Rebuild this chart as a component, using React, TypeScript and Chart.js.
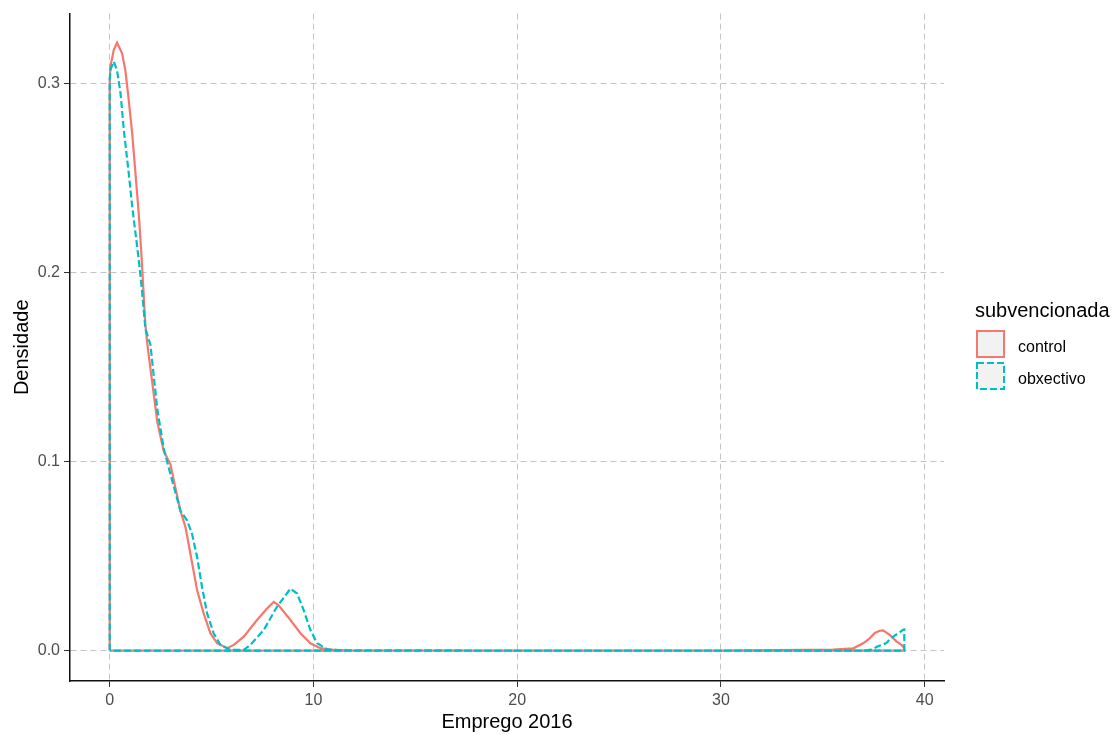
import { useEffect, useRef } from "react";
import { Chart, registerables } from "chart.js";

Chart.register(...registerables);

const FONT = "'Liberation Sans', Arial, Helvetica, sans-serif";

// Kernel density estimate of "Emprego 2016" — group "control"
const controlX = [0, 0.03, 0.2, 0.36, 0.61, 0.77, 0.93, 1.1, 1.26, 1.42, 1.54, 1.64, 1.75, 1.87, 2.08, 2.33, 2.65, 2.98, 3.22, 3.47, 3.72, 3.96, 4.29, 4.61, 4.94, 5.27, 5.76, 6.09, 6.58, 7.23, 7.72, 8.05, 8.29, 8.87, 9.36, 9.85, 10.34, 10.83, 11.5, 20, 30, 35.5, 36.5, 37.0, 37.3, 37.55, 37.8, 37.96, 38.2, 38.37, 38.6, 38.86, 39];
const controlY = [0.300, 0.309, 0.318, 0.3218, 0.316, 0.307, 0.2916, 0.274, 0.253, 0.232, 0.2126, 0.1934, 0.1723, 0.16, 0.1425, 0.1214, 0.1056, 0.0986, 0.0863, 0.074, 0.0653, 0.0513, 0.0319, 0.0197, 0.0092, 0.0039, 0.0013, 0.003, 0.0074, 0.0162, 0.0223, 0.0258, 0.024, 0.0162, 0.0092, 0.0039, 0.0013, 0.0005, 0.0001, 0, 0, 0.0005, 0.0012, 0.004, 0.0065, 0.0093, 0.0105, 0.0107, 0.009, 0.0075, 0.005, 0.003, 0.0013];

// group "obxectivo"
const obxectivoX = [0, 0.05, 0.2, 0.36, 0.53, 0.69, 0.93, 1.1, 1.26, 1.42, 1.59, 1.75, 2.0, 2.33, 2.65, 2.98, 3.47, 3.8, 4.04, 4.29, 4.53, 4.78, 5.1, 5.43, 5.92, 6.58, 6.9, 7.56, 8.21, 8.87, 9.2, 9.52, 9.85, 10.18, 10.67, 11.2, 20, 30, 37.0, 37.4, 37.71, 37.9, 38.12, 38.3, 38.53, 38.75, 38.94, 39];
const obxectivoY = [0.303, 0.308, 0.3118, 0.307, 0.295, 0.2758, 0.253, 0.2355, 0.2214, 0.2074, 0.19, 0.1705, 0.1618, 0.128, 0.107, 0.0934, 0.074, 0.0688, 0.0618, 0.0495, 0.0337, 0.0197, 0.0092, 0.003, 0.0004, 0.0004, 0.003, 0.0109, 0.0232, 0.0328, 0.0302, 0.0214, 0.0109, 0.0039, 0.0007, 0.0002, 0, 0, 0, 0.0005, 0.0023, 0.003, 0.004, 0.006, 0.0079, 0.0095, 0.011, 0.0112];

const xTicks = [0, 10, 20, 30, 40];
const yTicks = [0, 0.1, 0.2, 0.3];

const groupNames = ["control", "obxectivo"];
const groupColors = ["#F8766D", "#00BFC4"];
const groupDash: number[][] = [[], [7, 3]];

const legendTitle = "subvencionada";
const xTitle = "Emprego 2016";
const yTitle = "Densidade";

// closed density outline (like geom_density): baseline -> curve -> baseline
function outline(xs: number[], ys: number[]) {
  const pts = xs.map((x, i) => ({ x, y: ys[i] }));
  return [{ x: xs[0], y: 0 }, ...pts, { x: xs[xs.length - 1], y: 0 }, { x: xs[0], y: 0 }];
}

const legendPlugin = {
  id: "ggLegend",
  afterDraw(chart: any) {
    const ctx = chart.ctx as CanvasRenderingContext2D;
    ctx.save();
    ctx.fillStyle = "#000";
    ctx.font = `20px ${FONT}`;
    ctx.textBaseline = "middle";
    ctx.textAlign = "left";
    ctx.fillText(legendTitle, 975, 311);
    groupNames.forEach((name, i) => {
      const top = 330 + i * 32;
      ctx.fillStyle = "#F2F2F2";
      ctx.fillRect(976, top, 29, 28);
      ctx.strokeStyle = groupColors[i];
      ctx.lineWidth = 2;
      ctx.setLineDash(groupDash[i]);
      ctx.strokeRect(977, top + 1, 27, 26);
      ctx.setLineDash([]);
      ctx.fillStyle = "#000";
      ctx.font = `16px ${FONT}`;
      ctx.fillText(name, 1018, top + 18);
    });
    ctx.restore();
  },
};

export default function App() {
  const ref = useRef<HTMLCanvasElement>(null);

  useEffect(() => {
    document.body.style.margin = "0";
    const canvas = ref.current;
    if (!canvas) return;
    Chart.defaults.font.family = FONT;

    const chart = new Chart(canvas, {
      type: "scatter",
      data: {
        datasets: [
          {
            label: groupNames[0],
            data: outline(controlX, controlY),
            showLine: true,
            borderColor: groupColors[0],
            borderWidth: 2.2,
            borderDash: groupDash[0],
            pointRadius: 0,
            tension: 0,
            fill: false,
            order: 2,
          },
          {
            label: groupNames[1],
            data: outline(obxectivoX, obxectivoY),
            showLine: true,
            borderColor: groupColors[1],
            borderWidth: 2.2,
            borderDash: groupDash[1],
            pointRadius: 0,
            tension: 0,
            fill: false,
            order: 1,
          },
        ],
      },
      options: {
        responsive: false,
        animation: false,
        layout: { padding: { left: 0, top: 10, right: 174, bottom: 0 } },
        plugins: {
          legend: { display: false },
          tooltip: { enabled: false },
        },
        scales: {
          x: {
            type: "linear",
            min: -1.95,
            max: 40.95,
            afterBuildTicks: (s: any) => {
              s.ticks = xTicks.map((v) => ({ value: v }));
            },
            afterFit: (s: any) => {
              s.height = 54;
            },
            grid: {
              color: "#c4c4c4",
              lineWidth: 1,
              tickLength: 6,
              tickColor: "#333",
              tickWidth: 1,
              tickBorderDash: [],
            },
            border: { display: true, color: "#111", width: 1.5, dash: [6, 4] },
            ticks: {
              color: "#4d4d4d",
              font: { size: 16 },
              padding: 4,
              maxRotation: 0,
              autoSkip: false,
              callback: (v: any) => String(v),
            },
            title: {
              display: true,
              text: xTitle,
              color: "#000",
              font: { size: 20 },
              padding: { top: 0, bottom: 1 },
            },
          },
          y: {
            type: "linear",
            min: -0.0161,
            max: 0.3372,
            afterBuildTicks: (s: any) => {
              s.ticks = yTicks.map((v) => ({ value: v }));
            },
            afterFit: (s: any) => {
              s.width = 70;
            },
            grid: {
              color: "#c4c4c4",
              lineWidth: 1,
              tickLength: 6,
              tickColor: "#333",
              tickWidth: 1,
              tickBorderDash: [],
            },
            border: { display: true, color: "#111", width: 1.5, dash: [6, 4] },
            ticks: {
              color: "#4d4d4d",
              font: { size: 16 },
              padding: 4,
              autoSkip: false,
              callback: (v: any) => Number(v).toFixed(1),
            },
            title: {
              display: true,
              text: yTitle,
              color: "#000",
              font: { size: 20 },
              padding: { top: 10, bottom: 0 },
            },
          },
        },
      },
      plugins: [legendPlugin],
    } as any);

    return () => chart.destroy();
  }, []);

  return (
    <div style={{ position: "relative", width: 1118, height: 735 }}>
      <canvas ref={ref} width={1118} height={735} style={{ display: "block" }} />
    </div>
  );
}
